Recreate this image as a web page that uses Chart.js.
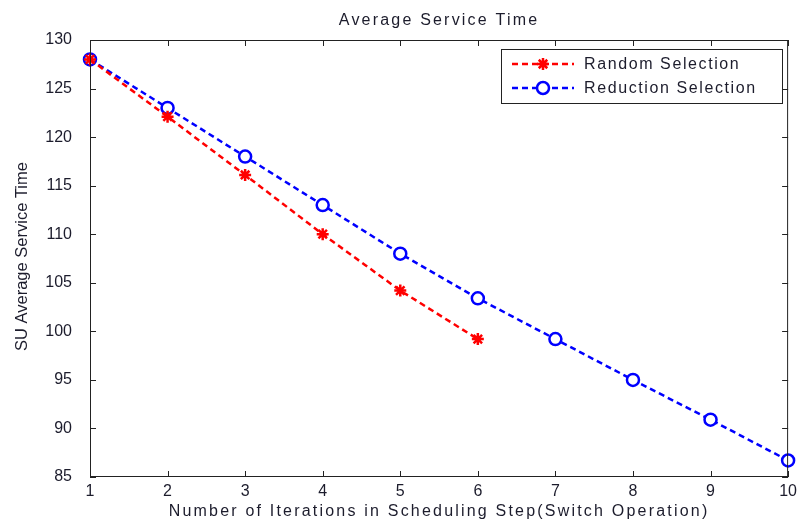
<!DOCTYPE html>
<html>
<head>
<meta charset="utf-8">
<script src="https://cdn.jsdelivr.net/npm/chart.js"></script>
<style>
html,body{margin:0;padding:0;background:#fff;}
#c{display:block;}
</style>
</head>
<body>
<canvas id="c" width="802" height="525"></canvas>
<script>
const iterations = [1, 2, 3, 4, 5, 6, 7, 8, 9, 10];
const randomSelection = [128, 122.1, 116.1, 110, 104.2, 99.2];
const reductionSelection = [128, 123, 118, 113, 108, 103.4, 99.2, 95, 90.9, 86.7];
const yTicks = [85, 90, 95, 100, 105, 110, 115, 120, 125, 130];
const seriesNames = ['Random Selection', 'Reduction Selection'];
const chartTitle = 'Average Service Time';
const xTitle = 'Number of Iterations in Scheduling Step(Switch Operation)';
const yTitle = 'SU Average Service Time';

const textColor = '#1c1c2c';
const FONT = '"Liberation Sans", Arial, sans-serif';

const toPts = arr => arr.map((v, i) => ({x: iterations[i], y: v}));

const framePlugin = {
  id: 'frame',
  afterLayout(chart) {
    const t = chart.titleBlock;
    if (t) { t.left = chart.chartArea.left; t.right = chart.chartArea.right; }
  },
  beforeDraw(chart) {
    chart.ctx.letterSpacing = '2.2px';
  },
  afterDatasetsDraw(chart) {
    const {ctx, chartArea: a, scales} = chart;
    ctx.save();
    ctx.strokeStyle = '#222';
    ctx.lineWidth = 1;
    ctx.setLineDash([]);
    ctx.strokeRect(a.left + 0.5, a.top + 0.5, a.right - a.left - 1, a.bottom - a.top - 1);
    const L = 6;
    ctx.beginPath();
    scales.x.ticks.forEach(t => {
      const px = Math.round(scales.x.getPixelForValue(t.value)) + 0.5;
      ctx.moveTo(px, a.bottom); ctx.lineTo(px, a.bottom - L);
      ctx.moveTo(px, a.top); ctx.lineTo(px, a.top + L);
    });
    scales.y.ticks.forEach(t => {
      const py = Math.round(scales.y.getPixelForValue(t.value)) + 0.5;
      ctx.moveTo(a.left, py); ctx.lineTo(a.left + L, py);
      ctx.moveTo(a.right, py); ctx.lineTo(a.right - L, py);
    });
    ctx.stroke();
    ctx.restore();
    ctx.letterSpacing = '0px';
  },
  afterDraw(chart) {
    const {ctx, chartArea: a} = chart;
    const ds = chart.data.datasets;
    // y axis title
    ctx.save();
    ctx.letterSpacing = '0px';
    ctx.translate(22, (a.top + a.bottom) / 2 - 2);
    ctx.rotate(-Math.PI / 2);
    ctx.fillStyle = textColor;
    ctx.font = '16.5px ' + FONT;
    ctx.textAlign = 'center';
    ctx.textBaseline = 'middle';
    ctx.fillText(yTitle, 0, 0);
    ctx.restore();
    // legend
    const bx = 501, by = 49, bw = 281, bh = 54;
    ctx.save();
    ctx.fillStyle = '#fff';
    ctx.fillRect(bx, by, bw, bh);
    ctx.strokeStyle = '#222';
    ctx.lineWidth = 1;
    ctx.setLineDash([]);
    ctx.strokeRect(bx + 0.5, by + 0.5, bw, bh);
    const rows = [64, 88];
    ds.forEach((d, i) => {
      const y = rows[i];
      ctx.strokeStyle = d.borderColor;
      ctx.lineWidth = 2.5;
      ctx.setLineDash([6, 4]);
      ctx.beginPath();
      ctx.moveTo(512, y); ctx.lineTo(574, y);
      ctx.stroke();
      ctx.setLineDash([]);
      ctx.strokeStyle = d.borderColor;
      ctx.lineWidth = d.pointBorderWidth;
      if (d.pointStyle === 'circle') {
        ctx.fillStyle = '#fff';
        ctx.beginPath();
        ctx.arc(543, y, d.pointRadius, 0, Math.PI * 2);
        ctx.fill();
        ctx.stroke();
      } else {
        ctx.fillStyle = d.pointBackgroundColor;
        Chart.helpers.drawPoint(ctx, {pointStyle: d.pointStyle, radius: d.pointRadius, borderWidth: d.pointBorderWidth, rotation: 0}, 543, y);
      }
      ctx.letterSpacing = '1.6px';
      ctx.fillStyle = textColor;
      ctx.font = '16px ' + FONT;
      ctx.textBaseline = 'middle';
      ctx.textAlign = 'left';
      ctx.fillText(d.label, 584, y + 1);
    });
    ctx.restore();
  }
};

new Chart(document.getElementById('c'), {
  type: 'line',
  data: {
    datasets: [
      {
        label: seriesNames[0],
        data: toPts(randomSelection),
        borderColor: '#ff0000',
        backgroundColor: '#ff0000',
        pointBackgroundColor: '#ff0000',
        pointBorderColor: '#ff0000',
        borderWidth: 2.5,
        borderDash: [6, 4],
        pointStyle: 'star',
        pointRadius: 6,
        pointBorderWidth: 2.5,
        tension: 0,
        clip: false
      },
      {
        label: seriesNames[1],
        data: toPts(reductionSelection),
        borderColor: '#0000ff',
        backgroundColor: '#0000ff',
        pointBackgroundColor: '#ffffff',
        pointBorderColor: '#0000ff',
        borderWidth: 2.5,
        borderDash: [6, 4],
        pointStyle: 'circle',
        pointRadius: 6,
        pointBorderWidth: 2.5,
        tension: 0,
        clip: false
      }
    ]
  },
  options: {
    responsive: false,
    animation: false,
    layout: {padding: {top: 0, right: 12, left: 0, bottom: 0}},
    plugins: {
      legend: {display: false},
      tooltip: {enabled: false},
      title: {
        display: true,
        text: chartTitle,
        color: textColor,
        font: {family: FONT, size: 16, weight: 'normal'},
        padding: {top: 11, bottom: 9.8}
      }
    },
    scales: {
      x: {
        type: 'linear',
        min: 1, max: 10,
        afterBuildTicks(s) { s.ticks = iterations.map(v => ({value: v})); },
        afterFit(s) { s.height = 48; },
        grid: {display: false, drawTicks: false},
        border: {display: false},
        ticks: {z: 1, color: textColor, font: {family: FONT, size: 16}, padding: 5, maxRotation: 0, autoSkip: false},
        title: {display: true, text: xTitle, color: textColor, font: {family: FONT, size: 16}, padding: {top: 0, bottom: 4}}
      },
      y: {
        min: 85, max: 130,
        afterBuildTicks(s) { s.ticks = yTicks.map(v => ({value: v})); },
        afterFit(s) { s.width = 90; },
        grid: {display: false, drawTicks: false},
        border: {display: false},
        ticks: {z: 1, color: textColor, font: {family: FONT, size: 16}, padding: 18, autoSkip: false},
        title: {display: false}
      }
    }
  },
  plugins: [framePlugin]
});
</script>
</body>
</html>
